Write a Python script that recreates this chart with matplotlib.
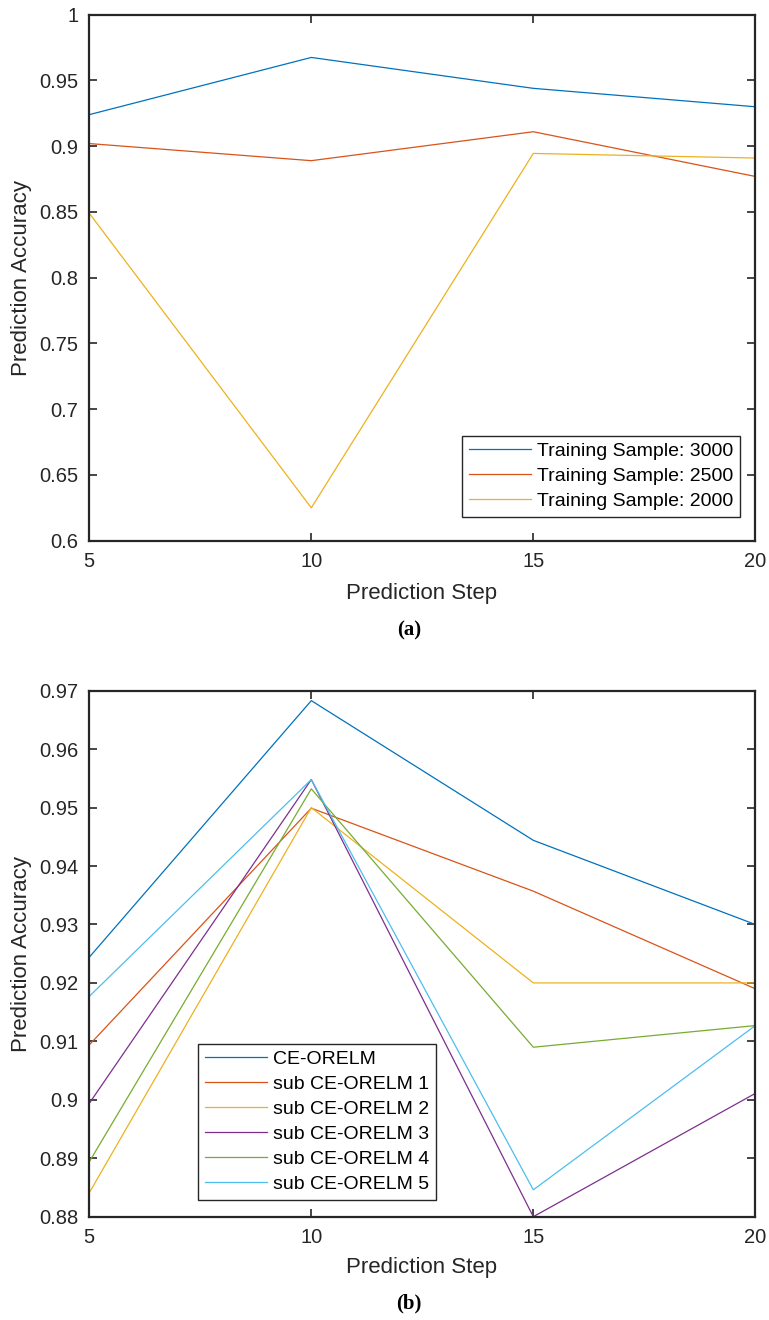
import matplotlib
matplotlib.use("Agg")
import matplotlib.pyplot as plt
from matplotlib.ticker import FuncFormatter

# prediction steps
steps = [5, 10, 15, 20]

# panel (a): training sample sizes
acc_3000 = [0.924, 0.9675, 0.944, 0.930]
acc_2500 = [0.902, 0.889, 0.911, 0.877]
acc_2000 = [0.849, 0.625, 0.8945, 0.891]
labels_a = ["Training Sample: 3000", "Training Sample: 2500", "Training Sample: 2000"]

# panel (b): CE-ORELM and its sub models
ce_orelm = [0.9244, 0.9683, 0.9444, 0.930]
sub1 = [0.9094, 0.9499, 0.9357, 0.919]
sub2 = [0.8841, 0.9500, 0.920, 0.920]
sub3 = [0.8994, 0.9548, 0.880, 0.9011]
sub4 = [0.8894, 0.9532, 0.909, 0.9127]
sub5 = [0.9177, 0.9548, 0.8846, 0.9127]
labels_b = ["CE-ORELM", "sub CE-ORELM 1", "sub CE-ORELM 2",
            "sub CE-ORELM 3", "sub CE-ORELM 4", "sub CE-ORELM 5"]

colors = ["#0072BD", "#D95319", "#EDB120", "#7E2F8E", "#77AC30", "#4DBEEE"]

plt.rcParams['font.family'] = ['Liberation Sans', 'DejaVu Sans']

W, H = 769, 1320
fig = plt.figure(figsize=(W / 100, H / 100), dpi=100)

def px_axes(left, top, right, bottom):
    return fig.add_axes([left / W, 1 - bottom / H, (right - left) / W, (bottom - top) / H])

def style(ax, yticks):
    ax.set_xlim(5, 20)
    ax.set_xticks([5, 10, 15, 20])
    ax.set_ylim(yticks[0], yticks[-1])
    ax.set_yticks(yticks)
    ax.yaxis.set_major_formatter(FuncFormatter(lambda v, p: '%g' % round(v, 4)))
    ax.tick_params(direction='in', top=True, right=True, length=6, width=1.2,
                   labelsize=14.5, colors='#262626', pad=8)
    for s in ax.spines.values():
        s.set_linewidth(1.6)
        s.set_color('#262626')

def legend(ax, **kw):
    leg = ax.legend(fontsize=14, handlelength=3.2, handletextpad=0.3, labelspacing=0.38,
                    borderpad=0.35, borderaxespad=0, fancybox=False, framealpha=1,
                    edgecolor='#262626', **kw)
    leg.get_frame().set_linewidth(1.0)

# ---- (a)
ax1 = px_axes(89.3, 14.7, 755.3, 540.7)
for ys, c, lab in zip([acc_3000, acc_2500, acc_2000], colors, labels_a):
    ax1.plot(steps, ys, color=c, lw=0.9, label=lab)
style(ax1, [0.6, 0.65, 0.7, 0.75, 0.8, 0.85, 0.9, 0.95, 1.0])
legend(ax1, loc='lower right', bbox_to_anchor=(0.977, 0.045))

fig.text(22 / W, 1 - 278 / H, "Prediction Accuracy", rotation=90, ha='center', va='center',
         fontsize=16, color='#262626')
fig.text(422 / W, 1 - 593 / H, "Prediction Step", ha='center', va='center',
         fontsize=16, color='#262626')
fig.text(409 / W, 1 - 630 / H, "(a)", ha='center', va='center', fontsize=15,
         fontweight='bold', family=['Liberation Serif', 'DejaVu Serif'])

# ---- (b)
ax2 = px_axes(89.3, 690.7, 755.3, 1216.7)
for ys, c, lab in zip([ce_orelm, sub1, sub2, sub3, sub4, sub5], colors, labels_b):
    ax2.plot(steps, ys, color=c, lw=0.9, label=lab)
style(ax2, [0.88, 0.89, 0.90, 0.91, 0.92, 0.93, 0.94, 0.95, 0.96, 0.97])
legend(ax2, loc='lower left', bbox_to_anchor=(0.163, 0.032))

fig.text(22 / W, 1 - 954 / H, "Prediction Accuracy", rotation=90, ha='center', va='center',
         fontsize=16, color='#262626')
fig.text(422 / W, 1 - 1268 / H, "Prediction Step", ha='center', va='center',
         fontsize=16, color='#262626')
fig.text(409 / W, 1 - 1303 / H, "(b)", ha='center', va='center', fontsize=15,
         fontweight='bold', family=['Liberation Serif', 'DejaVu Serif'])

fig.savefig("out.png", dpi=100)
